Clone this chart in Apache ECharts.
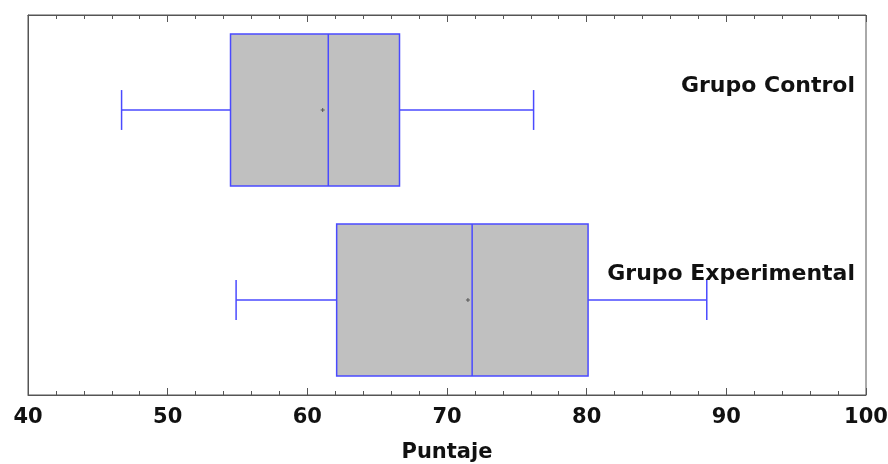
<!DOCTYPE html>
<html><head><meta charset="utf-8">
<script src="https://cdn.jsdelivr.net/npm/echarts@6/dist/echarts.min.js"></script>
<style>html,body{margin:0;padding:0;background:#fff}#c{width:888px;height:464px}</style>
</head><body><div id="c"></div>
<script>
const categories = ['Grupo Experimental', 'Grupo Control'];
const mins = [54.9, 46.7];
const q1s = [62.1, 54.5];
const medians = [71.8, 61.5];
const q3s = [80.1, 66.6];
const maxs = [88.6, 76.2];
const means = [71.5, 61.1];
const xTicks = [40, 50, 60, 70, 80, 90, 100];

const data = categories.map((c, i) => [i, mins[i], q1s[i], medians[i], q3s[i], maxs[i], means[i]]);
const chart = echarts.init(document.getElementById('c'));
const blue = '#4a4aff';
const font = '"DejaVu Sans"';
chart.setOption({
  animation: false,
  grid: {left: 28, right: 22, top: 15, bottom: 69, outerBoundsMode: 'none', containLabel: false, show: true, borderColor: '#555', borderWidth: 1, backgroundColor: 'transparent'},
  xAxis: [{
    type: 'value', min: xTicks[0], max: xTicks[xTicks.length - 1], interval: 10, position: 'bottom',
    axisLine: {show: true, lineStyle: {color: '#555'}},
    axisTick: {show: true, inside: true, length: 7, lineStyle: {color: '#555'}},
    minorTick: {show: true, splitNumber: 5, length: 4, lineStyle: {color: '#555'}},
    splitLine: {show: false},
    axisLabel: {color: '#111', fontFamily: font, fontWeight: 'bold', fontSize: 21, margin: 12},
    name: 'Puntaje', nameLocation: 'middle', nameGap: 47,
    nameTextStyle: {color: '#111', fontFamily: font, fontWeight: 'bold', fontSize: 21}
  }, {
    type: 'value', min: xTicks[0], max: xTicks[xTicks.length - 1], interval: 10, position: 'top',
    axisLine: {show: true, lineStyle: {color: '#555'}},
    axisTick: {show: true, inside: true, length: 7, lineStyle: {color: '#555'}},
    minorTick: {show: true, splitNumber: 5, length: 4, lineStyle: {color: '#555'}},
    splitLine: {show: false}, axisLabel: {show: false}
  }],
  yAxis: {
    type: 'category', data: categories, boundaryGap: true,
    axisLine: {show: true, lineStyle: {color: '#555'}}, axisTick: {show: false}, axisLabel: {show: false}, splitLine: {show: false}
  },
  series: [{
    type: 'custom',
    data: data,
    encode: {x: [1, 2, 3, 4, 5, 6], y: 0},
    renderItem: function (params, api) {
      const cat = api.value(0);
      const band = api.size([0, 1])[1];
      const bh = band * 0.8;
      const capH = band * 0.21;
      const pMin = api.coord([api.value(1), cat]);
      const pQ1 = api.coord([api.value(2), cat]);
      const pMed = api.coord([api.value(3), cat]);
      const pQ3 = api.coord([api.value(4), cat]);
      const pMax = api.coord([api.value(5), cat]);
      const pMean = api.coord([api.value(6), cat]);
      const y = pQ1[1];
      const ls = {stroke: blue, lineWidth: 1.5, fill: null};
      return {type: 'group', children: [
        {type: 'rect', shape: {x: pQ1[0], y: y - bh / 2, width: pQ3[0] - pQ1[0], height: bh}, style: {fill: '#c0c0c0', stroke: blue, lineWidth: 1.5}},
        {type: 'line', shape: {x1: pMed[0], y1: y - bh / 2, x2: pMed[0], y2: y + bh / 2}, style: ls},
        {type: 'line', shape: {x1: pMin[0], y1: y, x2: pQ1[0], y2: y}, style: ls},
        {type: 'line', shape: {x1: pQ3[0], y1: y, x2: pMax[0], y2: y}, style: ls},
        {type: 'line', shape: {x1: pMin[0], y1: y - capH / 2, x2: pMin[0], y2: y + capH / 2}, style: ls},
        {type: 'line', shape: {x1: pMax[0], y1: y - capH / 2, x2: pMax[0], y2: y + capH / 2}, style: ls},
        {type: 'line', shape: {x1: pMean[0] - 2, y1: y, x2: pMean[0] + 2, y2: y}, style: {stroke: '#555', lineWidth: 1}},
        {type: 'line', shape: {x1: pMean[0], y1: y - 2, x2: pMean[0], y2: y + 2}, style: {stroke: '#555', lineWidth: 1}}
      ]};
    }
  }],
  graphic: [
    {type: 'text', right: 33, top: 75, style: {text: 'Grupo Control', fill: '#111', font: 'bold 22px "DejaVu Sans"'}},
    {type: 'text', right: 33, top: 263, style: {text: 'Grupo Experimental', fill: '#111', font: 'bold 22px "DejaVu Sans"'}}
  ]
});
</script></body></html>
